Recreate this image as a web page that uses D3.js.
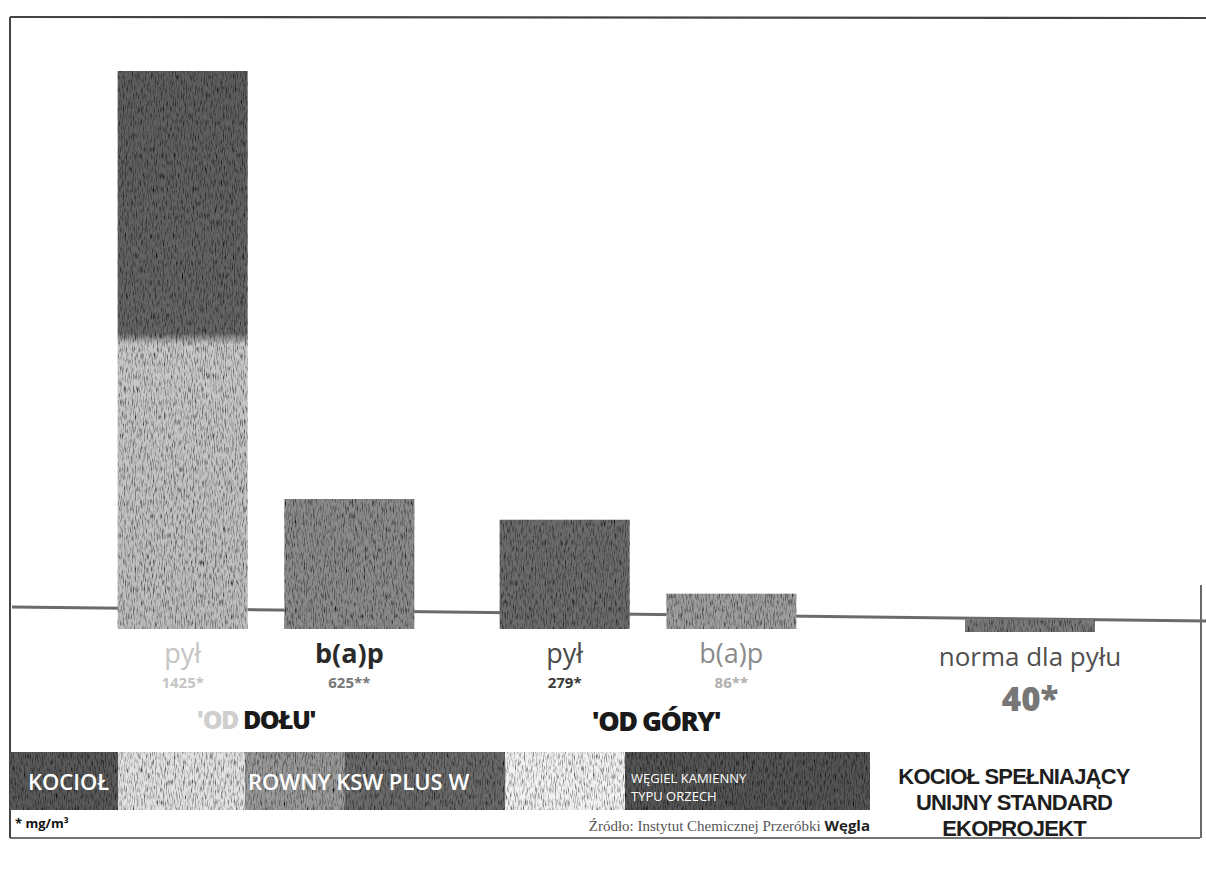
<!DOCTYPE html>
<html><head><meta charset="utf-8">
<script src="https://cdn.jsdelivr.net/npm/d3@7"></script>
<style>html,body{margin:0;padding:0;background:#fff;}svg{display:block;}</style>
</head><body>
<svg id="c" width="1206" height="869"></svg>
<script>
// ---- data ----
const groups = ["'OD DOŁU'", "'OD GÓRY'", "NORMA"];
const pollutants = ["pył", "b(a)p"];
const dustValues = [1425, 279];        // mg/m3  (od dołu, od góry)
const bapValues = [625, 86];           // b(a)p   (od dołu, od góry)
const dustLabels = ["1425*", "279*"];
const bapLabels = ["625**", "86**"];
const normValue = 40;
const normLabel = "40*";
const normTitle = "norma dla pyłu";
const legendNames = ["KOCIOŁ", "ROWNY KSW PLUS W", "WĘGIEL KAMIENNY", "TYPU ORZECH"];
const boilerNote = ["KOCIOŁ SPEŁNIAJĄCY", "UNIJNY STANDARD", "EKOPROJEKT"];
const unitNote = "* mg/m³";
const sourceNote = ["Źródło: Instytut Chemicznej Przeróbki ", "Węgla"];

const svg = d3.select("#c");
const base = 629;

// scales
const xGroup = d3.scaleBand().domain(groups).range([75, 1221]);
const xSub = d3.scaleBand().domain(pollutants).range([-165, 165]).paddingInner(0.22).paddingOuter(0.1);
const yDust = d3.scaleLinear().domain([0, 1425]).range([base, 71]);
const yBap = d3.scaleLinear().domain([-115, 625]).range([base, 499]);

// defs
const defs = svg.append("defs");
const g1 = defs.append("linearGradient").attr("id","gDol").attr("x1",0).attr("x2",0).attr("y1",0).attr("y2",1);
[[0,"#5e5e5e"],[0.47,"#666"],[0.49,"#c9c9c9"],[1,"#bdbdbd"]].forEach(s=>g1.append("stop").attr("offset",s[0]).attr("stop-color",s[1]));
const noise = defs.append("filter").attr("id","grain").attr("x",0).attr("y",0).attr("width",1).attr("height",1);
noise.append("feTurbulence").attr("type","fractalNoise").attr("baseFrequency","0.9 0.15").attr("numOctaves",2).attr("seed",3).attr("result","n");
noise.append("feColorMatrix").attr("in","n").attr("type","matrix")
  .attr("values","0 0 0 0 0  0 0 0 0 0  0 0 0 0 0  0 0 0 -2.2 1.25").attr("result","a");
noise.append("feComposite").attr("in","a").attr("in2","SourceGraphic").attr("operator","in").attr("result","s");
noise.append("feMerge").selectAll("feMergeNode").data(["SourceGraphic","s"]).enter().append("feMergeNode").attr("in",d=>d);

// frame
const frame = svg.append("g").attr("stroke","#444").attr("fill","none");
frame.append("line").attr("x1",10).attr("y1",17).attr("x2",1206).attr("y2",18).attr("stroke-width",2.2);
frame.append("line").attr("x1",10).attr("y1",17).attr("x2",10).attr("y2",838).attr("stroke-width",2);
frame.append("line").attr("x1",10).attr("y1",838).attr("x2",1200).attr("y2",838).attr("stroke-width",1.6);
frame.append("line").attr("x1",1201).attr("y1",585).attr("x2",1201).attr("y2",838).attr("stroke-width",1.6);

// baseline line
svg.append("line").attr("x1",12).attr("y1",607).attr("x2",1206).attr("y2",621)
  .attr("stroke","#6b6b6b").attr("stroke-width",3);

// bars
const bars = [
  {g:groups[0], p:"pył", v:dustValues[0], y:yDust, fill:"url(#gDol)", lab:"pył", val:dustLabels[0], lc:"#c4c4c4", vc:"#c4c4c4", fw:400},
  {g:groups[0], p:"b(a)p", v:bapValues[0], y:yBap, fill:"#8b8b8b", lab:"b(a)p", val:bapLabels[0], lc:"#2a2a2a", vc:"#777", fw:700},
  {g:groups[1], p:"pył", v:dustValues[1], y:yDust, fill:"#6c6c6c", lab:"pył", val:dustLabels[1], lc:"#4a4a4a", vc:"#3a3a3a", fw:400},
  {g:groups[1], p:"b(a)p", v:bapValues[1], y:yBap, fill:"#9e9e9e", lab:"b(a)p", val:bapLabels[1], lc:"#8a8a8a", vc:"#b0b0b0", fw:400}
];
const bw = xSub.bandwidth();
const bx = d => xGroup(d.g) + xGroup.bandwidth()/2 + xSub(d.p);
svg.append("g").selectAll("rect").data(bars).enter().append("rect")
  .attr("x", bx).attr("width", bw)
  .attr("y", d => d.y(d.v)).attr("height", d => base - d.y(d.v))
  .attr("fill", d => d.fill).attr("filter","url(#grain)");

// norm bar
const normX = xGroup(groups[2]) + xGroup.bandwidth()/2;
svg.append("rect").attr("x", normX - bw/2).attr("width", bw)
  .attr("y", yDust(normValue) + 6).attr("height", base + 3 - yDust(normValue) - 6)
  .attr("fill","#7a7a7a").attr("filter","url(#grain)");

// bar labels
const lab = svg.append("g").attr("font-family","'Open Sans', sans-serif").attr("text-anchor","middle");
lab.selectAll("text.n").data(bars).enter().append("text")
  .attr("x", d => bx(d) + bw/2).attr("y", 663).attr("font-size",27).attr("font-weight",d=>d.fw)
  .attr("fill", d => d.lc).text(d => d.lab);
lab.selectAll("text.v").data(bars).enter().append("text")
  .attr("x", d => bx(d) + bw/2).attr("y", 688).attr("font-size",15).attr("font-weight",700)
  .attr("fill", d => d.vc).text(d => d.val);
lab.append("text").attr("x", normX).attr("y", 666).attr("font-size",26).attr("fill","#505050").text(normTitle);
lab.append("text").attr("x", normX).attr("y", 711).attr("font-size",33).attr("font-weight",800).attr("fill","#777").text(normLabel);

// group titles
const gt = svg.append("g").attr("font-family","'Open Sans', sans-serif").attr("font-weight",800)
  .attr("text-anchor","middle").attr("letter-spacing",-1.5);
const t1 = gt.append("text").attr("x", xGroup(groups[0]) + xGroup.bandwidth()/2 - 10).attr("y", 729).attr("font-size",25);
t1.append("tspan").attr("fill","#cfcfcf").text("'OD ");
t1.append("tspan").attr("fill","#1a1a1a").text("DOŁU'");
gt.append("text").attr("x", xGroup(groups[1]) + xGroup.bandwidth()/2 + 8).attr("y", 731).attr("font-size",27)
  .attr("fill","#1a1a1a").text(groups[1]);
svg.append("g").attr("font-family","'Liberation Sans', Arial, sans-serif").attr("font-weight",700)
  .attr("text-anchor","middle").attr("letter-spacing",-0.8)
  .selectAll("text").data(boilerNote).enter().append("text")
  .attr("x", 1014).attr("y",(d,i)=>784 + i*26).attr("font-size",22).attr("fill","#1e1e1e").text(d=>d);

// legend strip
const strip = [
  {x0:10, x1:118, c:"#5a5a5a"},
  {x0:118, x1:245, c:"#e2e2e2"},
  {x0:245, x1:345, c:"#9a9a9a"},
  {x0:345, x1:505, c:"#6a6a6a"},
  {x0:505, x1:625, c:"#f2f2f2"},
  {x0:625, x1:870, c:"#555"}
];
svg.append("g").selectAll("rect").data(strip).enter().append("rect")
  .attr("x",d=>d.x0).attr("width",d=>d.x1-d.x0).attr("y",752).attr("height",58)
  .attr("fill",d=>d.c).attr("filter","url(#grain)");
const lt = svg.append("g").attr("font-family","'Open Sans', sans-serif").attr("fill","#fff");
lt.append("text").attr("x",28).attr("y",790).attr("font-size",22).attr("font-weight",600).text(legendNames[0]);
lt.append("text").attr("x",248).attr("y",790).attr("font-size",22).attr("font-weight",600).text(legendNames[1]);
lt.append("text").attr("x",631).attr("y",783).attr("font-size",13).text(legendNames[2]);
lt.append("text").attr("x",631).attr("y",801).attr("font-size",13).text(legendNames[3]);

// notes
svg.append("text").attr("x",15).attr("y",828).attr("font-family","'Open Sans', sans-serif")
  .attr("font-size",13).attr("font-weight",700).attr("fill","#111").text(unitNote);
const src = svg.append("text").attr("x",870).attr("y",831).attr("text-anchor","end")
  .attr("font-family","'Liberation Serif', serif").attr("font-size",15).attr("fill","#555");
src.append("tspan").text(sourceNote[0]);
src.append("tspan").attr("font-family","'Open Sans', sans-serif").attr("font-weight",700).attr("fill","#222").text(sourceNote[1]);
</script>
</body></html>
